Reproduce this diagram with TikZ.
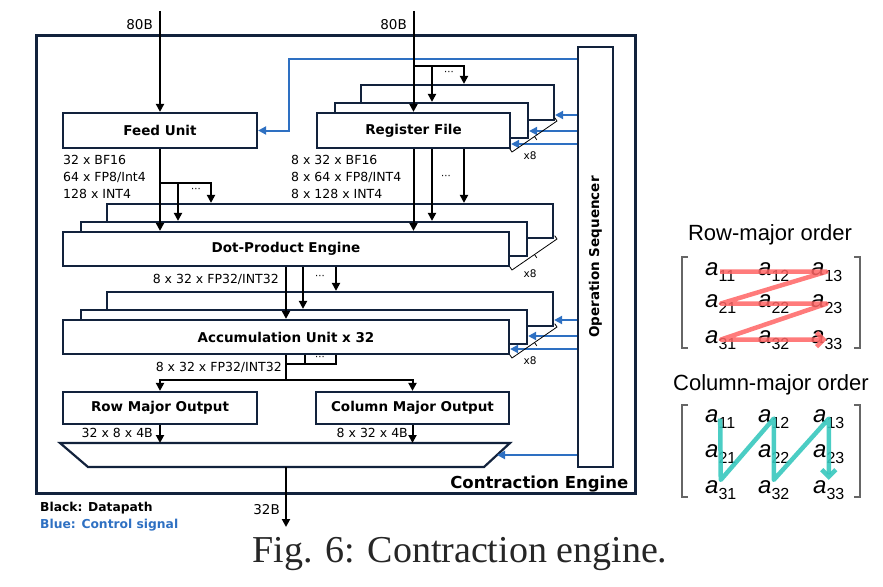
\documentclass[tikz,border=0pt]{standalone}
\usepackage{fontspec}
\usepackage{tikz}
\usetikzlibrary{arrows.meta}

\setmainfont{DejaVu Sans}
\newfontfamily\helvfont{Liberation Sans}
\newfontfamily\capfont{Liberation Serif}

\definecolor{edgenavy}{RGB}{18,34,60}
\definecolor{ctrlblue}{RGB}{46,112,194}
\definecolor{rowred}{RGB}{255,100,100}
\definecolor{colteal}{RGB}{55,200,190}

\newcommand{\elem}[1]{{\itshape a}\raisebox{-6pt}{\fontsize{16pt}{16pt}\selectfont #1}}

\begin{document}
\begin{tikzpicture}[x=1pt,y=-1pt,
    box/.style={draw=edgenavy,line width=2.2pt,fill=white,inner sep=0pt,
        font=\fontsize{13.5pt}{15pt}\selectfont\bfseries},
    datline/.style={line width=2pt},
    datarrow/.style={line width=2pt,-{Triangle[length=8pt,width=8pt]}},
    ctrlarrow/.style={draw=ctrlblue,line width=2pt,-{Triangle[length=8pt,width=8pt]}},
    lbl/.style={inner sep=0pt,font=\fontsize{12.5pt}{14pt}\selectfont},
    ellip/.style={inner sep=0pt,font=\fontsize{10pt}{10pt}\selectfont},
    brk/.style={line width=0.8pt},
    xlbl/.style={inner sep=0pt,font=\fontsize{10.5pt}{12pt}\selectfont},
    ent/.style={inner sep=0pt,anchor=base west,font=\helvfont\fontsize{24pt}{25pt}\selectfont},
    mbracket/.style={draw=black!60,line width=1.3pt},
    ttl/.style={inner sep=0pt,font=\helvfont\fontsize{22pt}{24pt}\selectfont}]

        \useasboundingbox (0,0) rectangle (883,586);

        \node[draw=edgenavy,line width=3pt,minimum width=599pt,minimum height=457pt] (ce) at (335.5,264.5) {};
        \node[anchor=east,inner sep=0pt,font=\fontsize{16.5pt}{18pt}\selectfont\bfseries] (cetxt) at ([xshift=-8pt,yshift=10pt]ce.south east) {Contraction Engine};

        \node[box,minimum width=194pt,minimum height=35pt] (feed) at (160,130.5) {Feed Unit};

        \node[box,minimum width=193pt,minimum height=35pt] (regf3) at (457.5,102.5) {};
        \node[box,minimum width=193pt,minimum height=35pt] (regf2) at (431.5,120.5) {};
        \node[box,minimum width=193pt,minimum height=35pt] (regf) at (413.5,130.5) {Register File};

        \node[box,minimum width=446pt,minimum height=34pt] (dpe3) at (330,221) {};
        \node[box,minimum width=446pt,minimum height=34pt] (dpe2) at (304,239) {};
        \node[box,minimum width=446pt,minimum height=34pt] (dpe) at (286,249) {Dot-Product Engine};

        \node[box,minimum width=446pt,minimum height=34pt] (acc3) at (330,309) {};
        \node[box,minimum width=446pt,minimum height=34pt] (acc2) at (304,327) {};
        \node[box,minimum width=446pt,minimum height=34pt] (acc) at (286,337) {Accumulation Unit x 32};

        \node[box,minimum width=194pt,minimum height=32pt] (rowout) at (160,408) {Row Major Output};
        \node[box,minimum width=193pt,minimum height=32pt] (colout) at (412.5,408) {Column Major Output};

        \node[box,minimum width=35pt,minimum height=420pt] (seq) at (595.5,257) {};
        \node[rotate=90,inner sep=0pt,font=\fontsize{13.5pt}{15pt}\selectfont\bfseries] (seqtxt) at (seq.center) {Operation Sequencer};

        \coordinate (mtl) at (60,443);
        \coordinate (mtr) at (510,443);
        \coordinate (mbr) at (484,467);
        \coordinate (mbl) at (88,467);
        \draw[draw=edgenavy,line width=2.2pt,fill=white] (mtl) -- (mtr) -- (mbr) -- (mbl) -- cycle;

        \coordinate (fturn) at (289,59);
        \draw[ctrlarrow] (seq.west |- fturn) -- (fturn) |- (feed.east);
        \draw[ctrlarrow] (seq.west |- 0,115) -- (regf3.east |- 0,115);
        \draw[ctrlarrow] (seq.west |- 0,131) -- (regf2.east |- 0,131);
        \draw[ctrlarrow] (seq.west |- 0,144) -- (regf.east |- 0,144);
        \draw[ctrlarrow] (seq.west |- 0,320) -- (acc3.east |- 0,320);
        \draw[ctrlarrow] (seq.west |- 0,336) -- (acc2.east |- 0,336);
        \draw[ctrlarrow] (seq.west |- 0,349) -- (acc.east |- 0,349);
        \coordinate (msel) at (497,455);
        \draw[ctrlarrow] (seq.west |- msel) -- (msel);

        \coordinate (inF) at (160,11);
        \coordinate (inR) at (413.5,11);
        \draw[datarrow] (inF) -- (feed.north);
        \draw[datarrow] (inR) -- (regf.north);
        \node[lbl,anchor=east,font=\fontsize{13.5pt}{15pt}\selectfont] (inFlbl) at (153,25) {80B};
        \node[lbl,anchor=east,font=\fontsize{13.5pt}{15pt}\selectfont] (inRlbl) at (407,25) {80B};

        \coordinate (rsplit) at (413.5,66);
        \draw[datarrow] (rsplit) -| (regf3.north -| 464,0);
        \draw[datarrow] (432,66) -- (regf2.north -| 432,0);
        \node[ellip] (rdots1) at (449,73) {···};

        \draw[datarrow] (feed.south) -- (feed.south |- dpe.north);
        \coordinate (fsplit) at (160,183);
        \draw[datarrow] (fsplit) -| (dpe3.north -| 211,0);
        \draw[datarrow] (178,183) -- (dpe2.north -| 178,0);
        \node[ellip] (fdots) at (196,190) {···};

        \draw[datarrow] (regf.south) -- (regf.south |- dpe.north);
        \draw[datarrow] (regf.south -| 432,0) -- (dpe2.north -| 432,0);
        \draw[datarrow] (regf.south -| 464,0) -- (dpe3.north -| 464,0);
        \node[ellip] (rdots2) at (446,177) {···};

        \draw[datarrow] (dpe.south) -- (acc.north);
        \draw[datarrow] (dpe.south -| 303,0) -- (acc2.north -| 303,0);
        \draw[datarrow] (dpe.south -| 336,0) -- (acc3.north -| 336,0);
        \node[ellip] (ddots) at (320,277) {···};

        \draw[datline] (acc.south -| 336,0) |- (286,364);
        \draw[datline] (acc.south -| 305,0) -- (305,364);
        \node[ellip] (adots) at (320,358) {···};
        \coordinate (osplit) at (286,380);
        \draw[datline] (acc.south) -- (osplit);
        \draw[datarrow] (osplit) -| (rowout.north);
        \draw[datarrow] (osplit) -| (colout.north);

        \draw[datarrow] (rowout.south) -- (rowout.south |- mtl);
        \draw[datarrow] (colout.south) -- (colout.south |- mtl);
        \coordinate (outB) at (286,527);
        \draw[datarrow] (outB |- mbl) -- (outB);

        \node[lbl,anchor=west] (fl1) at (63,160) {32 x BF16};
        \node[lbl,anchor=west] (fl2) at (63,177) {64 x FP8/Int4};
        \node[lbl,anchor=west] (fl3) at (63,194) {128 x INT4};
        \node[lbl,anchor=west] (rl1) at (291,160) {8 x 32 x BF16};
        \node[lbl,anchor=west] (rl2) at (291,177) {8 x 64 x FP8/INT4};
        \node[lbl,anchor=west] (rl3) at (291,194) {8 x 128 x INT4};
        \node[lbl,anchor=east] (dl) at (279,279) {8 x 32 x FP32/INT32};
        \node[lbl,anchor=east] (al) at (282,367) {8 x 32 x FP32/INT32};
        \node[lbl,anchor=east] (rol) at (153,433) {32 x 8 x 4B};
        \node[lbl,anchor=east] (cl) at (408,433) {8 x 32 x 4B};
        \node[lbl,anchor=east,font=\fontsize{13.5pt}{15pt}\selectfont] (outlbl) at (280,510) {32B};

        \draw[brk] (509.7,148.7) -- (512,152) -- (557,121) -- (554.7,117.7);
        \draw[brk] (534.5,136.5) -- (536.8,139.8);
        \node[xlbl] (x8a) at (530,156) {x8};
        \draw[brk] (509.7,266.7) -- (512,270) -- (557,239) -- (554.7,235.7);
        \draw[brk] (534.5,254.5) -- (536.8,257.8);
        \node[xlbl] (x8b) at (530,274) {x8};
        \draw[brk] (509.7,354.7) -- (512,358) -- (557,327) -- (554.7,323.7);
        \draw[brk] (534.5,342.5) -- (536.8,345.8);
        \node[xlbl] (x8c) at (530,361) {x8};

        \node[anchor=west,inner sep=0pt,font=\fontsize{12.3pt}{14pt}\selectfont\bfseries] (leg1) at (40,508) {Black: Datapath};
        \node[anchor=west,inner sep=0pt,text=ctrlblue,font=\fontsize{12.3pt}{14pt}\selectfont\bfseries] (leg2) at (40,525) {Blue: Control signal};

        \node[anchor=base,inner sep=0pt,text=black!85,font=\capfont\fontsize{38pt}{40pt}\selectfont] (cap) at (460,562) {Fig. 6: Contraction engine.};

        \node[ttl] (rowttl) at (770,235) {Row-major order};
        \draw[mbracket] (688,257) -| (682,348) -- (688,348);
        \draw[mbracket] (854,257) -| (860,348) -- (854,348);
        \node[ent] (r11) at (705,275) {\elem{11}};
        \node[ent] (r12) at (758,275) {\elem{12}};
        \node[ent] (r13) at (811,275) {\elem{13}};
        \node[ent] (r21) at (705,307) {\elem{21}};
        \node[ent] (r22) at (758,307) {\elem{22}};
        \node[ent] (r23) at (811,307) {\elem{23}};
        \node[ent] (r31) at (705,343) {\elem{31}};
        \node[ent] (r32) at (758,343) {\elem{32}};
        \node[ent] (r33) at (811,343) {\elem{33}};
        \draw[rowred,line width=4.5pt,line join=round,opacity=0.85,-{Straight Barb[length=7pt,width=14pt]}]
            (r11.center) -- (r13.center) -- (r21.center) -- (r23.center) -- (r31.center) -- (r33.center);

        \node[ttl] (colttl) at (771,385) {Column-major order};
        \draw[mbracket] (688,405) -| (682,497) -- (688,497);
        \draw[mbracket] (854,405) -| (860,497) -- (854,497);
        \node[ent] (c11) at (705,422) {\elem{11}};
        \node[ent] (c12) at (758,422) {\elem{12}};
        \node[ent] (c13) at (813,422) {\elem{13}};
        \node[ent] (c21) at (705,457) {\elem{21}};
        \node[ent] (c22) at (758,457) {\elem{22}};
        \node[ent] (c23) at (813,457) {\elem{23}};
        \node[ent] (c31) at (705,493) {\elem{31}};
        \node[ent] (c32) at (758,493) {\elem{32}};
        \node[ent] (c33) at (813,493) {\elem{33}};
        \draw[colteal,line width=4.5pt,line join=round,opacity=0.9,-{Straight Barb[length=7pt,width=14pt]}]
            (c11.center) -- (c31.north) -- (c12.center) -- (c32.north) -- (c13.center) -- (c33.north);

    \end{tikzpicture}
\end{document}
